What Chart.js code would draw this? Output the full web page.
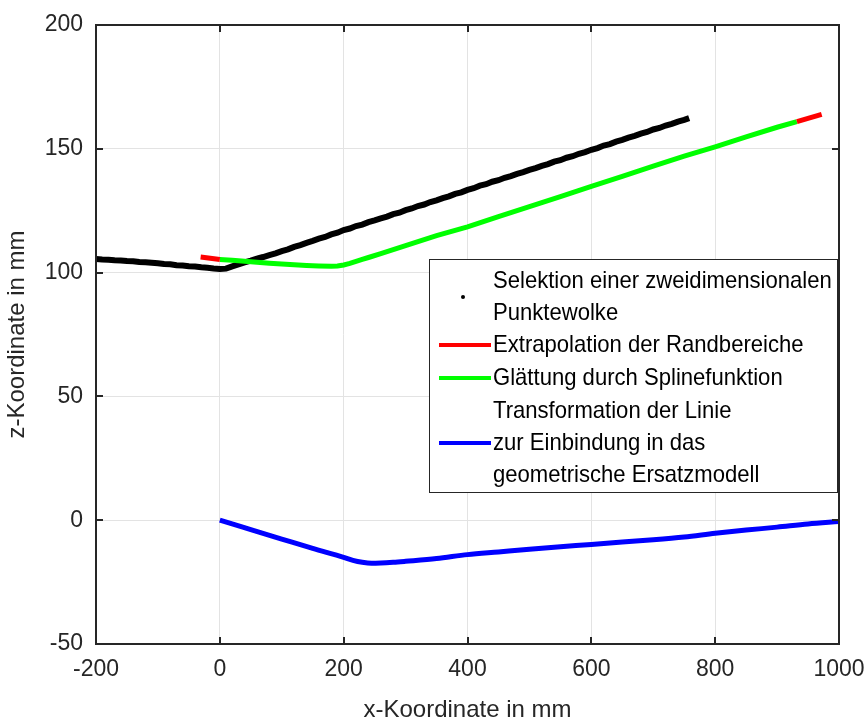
<!DOCTYPE html>
<html>
<head>
<meta charset="utf-8">
<script src="https://cdn.jsdelivr.net/npm/chart.js@4/dist/chart.umd.min.js"></script>
<style>
  html, body { margin: 0; padding: 0; background: #fff; }
  #wrap { width: 868px; height: 725px; }
</style>
</head>
<body>
<div id="wrap"><canvas id="profil" width="868" height="725"></canvas></div>
<script>
// Punktewolke (x, z) in mm
let wolkeX = [-200, -190, -180, -170, -160, -150, -140, -130, -120, -110, -100, -90, -80, -70, -60, -50, -40, -30, -20, -10,
  0, 10, 20, 30, 40, 50, 60, 70, 80, 90, 100, 110, 120, 130, 140, 150, 160, 170, 180, 190,
  200, 210, 220, 230, 240, 250, 260, 270, 280, 290, 300, 310, 320, 330, 340, 350, 360, 370, 380, 390,
  400, 410, 420, 430, 440, 450, 460, 470, 480, 490, 500, 510, 520, 530, 540, 550, 560, 570, 580, 590,
  600, 610, 620, 630, 640, 650, 660, 670, 680, 690, 700, 710, 720, 730, 740, 750, 758];
let wolkeZ = [105.5, 105.3, 105.2, 105.0, 104.9, 104.7, 104.6, 104.3, 104.2, 104.0, 103.8, 103.5, 103.4, 103.0, 102.9, 102.6, 102.5, 102.2, 102.0, 101.7,
  101.5, 101.6, 102.5, 103.3, 104.1, 104.8, 105.6, 106.3, 107.1, 107.8, 108.7, 109.4, 110.4, 111.1, 112.0, 112.8, 113.7, 114.4, 115.4, 116.1,
  117.2, 117.8, 118.8, 119.4, 120.4, 121.1, 121.9, 122.6, 123.6, 124.2, 125.2, 125.9, 126.9, 127.5, 128.5, 129.2, 130.1, 130.8, 131.8, 132.4,
  133.4, 134.1, 135.1, 135.7, 136.7, 137.3, 138.3, 139.0, 139.9, 140.6, 141.5, 142.2, 143.1, 143.8, 144.8, 145.4, 146.4, 147.0, 148.0, 148.7,
  149.6, 150.3, 151.3, 151.9, 152.9, 153.6, 154.5, 155.2, 156.1, 156.8, 157.8, 158.4, 159.4, 160.1, 161.0, 161.7, 162.4];

// Randbereiche (extrapoliert), links und rechts
let randLinksX = [-31, 0];
let randLinksZ = [106.3, 105.3];
let randRechtsX = [932, 972];
let randRechtsZ = [161.0, 163.9];

// Splineglaettung
let splineX = [0, 20, 40, 60, 80, 100, 120, 140, 160, 180, 190, 200, 210, 220, 230, 240, 260, 280, 300, 350,
  400, 450, 500, 550, 600, 650, 700, 750, 800, 850, 900, 932];
let splineZ = [105.3, 105.0, 104.6, 104.2, 103.8, 103.5, 103.2, 102.9, 102.7, 102.6, 102.7, 103.1, 103.7, 104.5, 105.3, 106.1, 107.7, 109.3, 110.9, 114.9,
  118.5, 122.6, 126.6, 130.7, 134.8, 138.9, 143.0, 147.0, 150.8, 154.8, 158.7, 161.0];

// transformierte Linie
let transX = [0, 50, 100, 150, 200, 215, 230, 245, 260, 280, 300, 350, 400, 450, 500, 550, 600, 650, 700, 750, 800, 850, 900, 950, 1000];
let transZ = [0, -3.8, -7.6, -11.4, -15.0, -16.2, -17.0, -17.4, -17.3, -17.0, -16.6, -15.5, -13.9, -12.8, -11.7, -10.7, -9.8, -8.8, -7.9, -6.8, -5.3, -4.0, -2.8, -1.5, -0.5];

let xTicks = [-200, 0, 200, 400, 600, 800, 1000];
let zTicks = [-50, 0, 50, 100, 150, 200];

let legendeTexte = [
  ['Selektion einer zweidimensionalen', 'Punktewolke'],
  ['Extrapolation der Randbereiche'],
  ['Glättung durch Splinefunktion'],
  ['Transformation der Linie', 'zur Einbindung in das', 'geometrische Ersatzmodell']
];

let schrift = '"Liberation Sans", Arial, Helvetica, sans-serif';
let dunkel = '#262626';

function punkte(xs, zs) {
  return xs.map(function (x, i) { return { x: x, y: zs[i] }; });
}

// Rahmen mit nach innen zeigenden Ticks
let rahmen = {
  id: 'rahmen',
  afterDatasetsDraw(chart) {
    let ctx = chart.ctx;
    let a = chart.chartArea;
    let sx = chart.scales.x;
    let sy = chart.scales.y;
    ctx.save();
    ctx.strokeStyle = dunkel;
    ctx.lineWidth = 2;
    ctx.beginPath();
    xTicks.forEach(function (t) {
      let px = Math.round(sx.getPixelForValue(t));
      ctx.moveTo(px, a.bottom); ctx.lineTo(px, a.bottom - 7);
      ctx.moveTo(px, a.top); ctx.lineTo(px, a.top + 7);
    });
    zTicks.forEach(function (t) {
      let py = Math.round(sy.getPixelForValue(t));
      ctx.moveTo(a.left, py); ctx.lineTo(a.left + 7, py);
      ctx.moveTo(a.right, py); ctx.lineTo(a.right - 7, py);
    });
    ctx.stroke();
    ctx.strokeRect(a.left, a.top, a.right - a.left, a.bottom - a.top);
    ctx.restore();
  }
};

// Legende im Diagramm
let legende = {
  id: 'legende',
  afterDraw(chart) {
    let ctx = chart.ctx;
    let bx = 429, by = 259, bw = 409, bh = 234;
    ctx.save();
    ctx.fillStyle = '#fff';
    ctx.fillRect(bx, by, bw, bh);
    ctx.strokeStyle = dunkel;
    ctx.lineWidth = 1;
    ctx.strokeRect(bx + 0.5, by + 0.5, bw - 1, bh - 1);

    let zeilenY = [281, 313, 345, 378, 411, 443, 475];
    let farben = [null, '#ff0000', '#00ff00', '#0000ff'];
    ctx.fillStyle = '#000';
    ctx.textBaseline = 'middle';
    let zeile = 0;
    legendeTexte.forEach(function (eintrag, i) {
      let y0 = zeilenY[zeile];
      let y1 = zeilenY[zeile + eintrag.length - 1];
      let mitte = (y0 + y1) / 2;
      if (i === 0) {
        ctx.beginPath();
        ctx.arc(463, mitte, 2, 0, Math.PI * 2);
        ctx.fill();
      } else {
        ctx.strokeStyle = farben[i];
        ctx.lineWidth = 4;
        ctx.beginPath();
        ctx.moveTo(439, mitte);
        ctx.lineTo(491, mitte);
        ctx.stroke();
      }
      eintrag.forEach(function (t) {
        // etwas schmaler und hoeher gesetzt
        ctx.save();
        ctx.translate(493, zeilenY[zeile]);
        ctx.scale(0.92, 1);
        ctx.font = '24px ' + schrift;
        ctx.fillText(t, 0, 0);
        ctx.restore();
        zeile++;
      });
    });
    ctx.restore();
  }
};

let ctx = document.getElementById('profil');
let profilChart = new Chart(ctx, {
  type: 'scatter',
  data: {
    datasets: [{
      label: legendeTexte[0].join(' '),
      data: punkte(wolkeX, wolkeZ),
      showLine: true,
      borderColor: '#000',
      backgroundColor: '#000',
      borderWidth: 6,
      pointRadius: 0,
      order: 3
    }, {
      label: legendeTexte[2][0],
      data: punkte(splineX, splineZ),
      showLine: true,
      borderColor: '#00ff00',
      borderWidth: 5,
      pointRadius: 0,
      order: 2
    }, {
      label: legendeTexte[1][0],
      data: punkte(randLinksX, randLinksZ),
      showLine: true,
      borderColor: '#ff0000',
      borderWidth: 5,
      pointRadius: 0,
      order: 1
    }, {
      label: legendeTexte[1][0] + ' rechts',
      data: punkte(randRechtsX, randRechtsZ),
      showLine: true,
      borderColor: '#ff0000',
      borderWidth: 5,
      pointRadius: 0,
      order: 1
    }, {
      label: legendeTexte[3].join(' '),
      data: punkte(transX, transZ),
      showLine: true,
      borderColor: '#0000ff',
      borderWidth: 5,
      pointRadius: 0,
      cubicInterpolationMode: 'monotone',
      order: 0
    }]
  },
  options: {
    responsive: false,
    animation: false,
    layout: { padding: { top: 25, right: 29, left: 0, bottom: 0 } },
    plugins: {
      legend: { display: false },
      tooltip: { enabled: false }
    },
    scales: {
      x: {
        type: 'linear',
        min: -200,
        max: 1000,
        afterBuildTicks: function (s) { s.ticks = xTicks.map(function (v) { return { value: v }; }); },
        afterFit: function (s) {
          s.height = 81;
          s.paddingLeft = 0;
          s.paddingRight = 0;
        },
        grid: { color: '#e3e3e3', lineWidth: 1, drawTicks: false },
        border: { display: false },
        ticks: {
          color: dunkel, font: { family: schrift, size: 23 }, padding: 12, maxRotation: 0,
          callback: function (v) { return String(v); }
        },
        title: { display: true, text: 'x-Koordinate in mm', color: dunkel, font: { family: schrift, size: 24 }, padding: { top: 0, bottom: 0 } }
      },
      y: {
        type: 'linear',
        min: -50,
        max: 200,
        afterBuildTicks: function (s) { s.ticks = zTicks.map(function (v) { return { value: v }; }); },
        afterFit: function (s) {
          s.width = 96;
          s.paddingTop = 0;
          s.paddingBottom = 0;
        },
        grid: { color: '#e3e3e3', lineWidth: 1, drawTicks: false },
        border: { display: false },
        ticks: { color: dunkel, font: { family: schrift, size: 23 }, padding: 13 },
        title: { display: true, text: 'z-Koordinate in mm', color: dunkel, font: { family: schrift, size: 24 }, padding: { top: 3, bottom: 0 } }
      }
    }
  },
  plugins: [rahmen, legende]
});
</script>
</body>
</html>
